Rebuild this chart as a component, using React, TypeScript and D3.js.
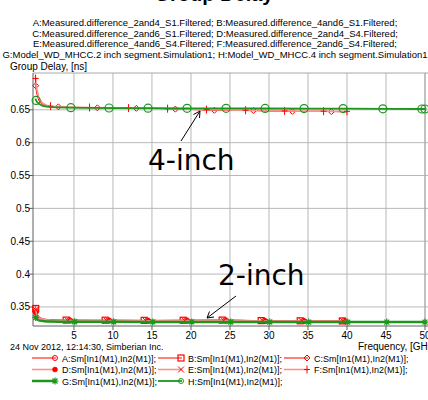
import React from 'react';
import * as d3 from 'd3';

const W = 428;
const H = 400;

const titleLines = [
  'A:Measured.difference_2and4_S1.Filtered; B:Measured.difference_4and6_S1.Filtered;',
  'C:Measured.difference_2and6_S1.Filtered; D:Measured.difference_2and4_S4.Filtered;',
  'E:Measured.difference_4and6_S4.Filtered; F:Measured.difference_2and6_S4.Filtered;',
  'G:Model_WD_MHCC.2 inch segment.Simulation1; H:Model_WD_MHCC.4 inch segment.Simulation1',
];

const xTicks = [5, 10, 15, 20, 25, 30, 35, 40, 45, 50];
const yTicks = [0.35, 0.4, 0.45, 0.5, 0.55, 0.6, 0.65];
const yTickLabels = ['0.35', '0.4', '0.45', '0.5', '0.55', '0.6', '0.65'];

// measured frequencies (GHz), up to 40
const measFreq = [0.05, 0.2, 0.5, 1, 1.5, 2, 3, 4, 6, 8, 10, 12, 14, 16, 18, 20, 22, 24, 26, 28, 30, 32, 34, 36, 38, 40];
// model frequencies (GHz), up to 50
const modelFreq = [0.05, 0.2, 0.5, 1, 1.5, 2, 3, 4, 6, 8, 10, 15, 20, 25, 30, 35, 40, 45, 50];

const seriesA = [0.347, 0.338, 0.333, 0.331, 0.3305, 0.33, 0.3298, 0.3297, 0.3296, 0.3295, 0.3296, 0.3295, 0.3294, 0.3294, 0.3295, 0.3296, 0.3297, 0.3298, 0.3296, 0.3292, 0.329, 0.3289, 0.3288, 0.3288, 0.3287, 0.3286];
const seriesB = [0.351, 0.341, 0.335, 0.332, 0.331, 0.3305, 0.3302, 0.33, 0.3299, 0.3298, 0.3298, 0.3297, 0.3296, 0.3296, 0.3297, 0.3298, 0.3299, 0.33, 0.3298, 0.3293, 0.3291, 0.329, 0.3289, 0.3289, 0.3288, 0.3287];
const seriesC = [0.692, 0.676, 0.664, 0.658, 0.656, 0.655, 0.6545, 0.654, 0.6535, 0.653, 0.6528, 0.6525, 0.652, 0.6518, 0.651, 0.6505, 0.6495, 0.649, 0.6492, 0.6488, 0.648, 0.6478, 0.6475, 0.6478, 0.6472, 0.647];
const seriesD = [0.344, 0.336, 0.332, 0.3303, 0.3298, 0.3294, 0.3291, 0.329, 0.3289, 0.3288, 0.3288, 0.3287, 0.3286, 0.3286, 0.3286, 0.3287, 0.3288, 0.3288, 0.3287, 0.3284, 0.3283, 0.3282, 0.3281, 0.3281, 0.328, 0.328];
const seriesE = [0.349, 0.339, 0.334, 0.3315, 0.3305, 0.33, 0.3297, 0.3295, 0.3294, 0.3293, 0.3293, 0.3292, 0.3291, 0.3291, 0.3292, 0.3293, 0.3294, 0.3295, 0.3293, 0.3289, 0.3287, 0.3286, 0.3285, 0.3285, 0.3284, 0.3283];
const seriesF = [0.701, 0.684, 0.668, 0.66, 0.657, 0.6555, 0.6548, 0.6542, 0.6538, 0.6532, 0.653, 0.6526, 0.6522, 0.652, 0.6515, 0.651, 0.6502, 0.6497, 0.6495, 0.649, 0.6485, 0.6483, 0.648, 0.648, 0.6478, 0.6476];
const seriesG = [0.335, 0.332, 0.3295, 0.3285, 0.328, 0.3278, 0.3276, 0.3275, 0.3274, 0.3273, 0.3273, 0.3272, 0.3272, 0.3271, 0.3271, 0.327, 0.327, 0.327, 0.327];
const seriesH = [0.667, 0.663, 0.659, 0.656, 0.6548, 0.6542, 0.6537, 0.6533, 0.653, 0.6528, 0.6527, 0.6525, 0.6523, 0.6522, 0.652, 0.6519, 0.6518, 0.6514, 0.6512];

// where the markers sit along each curve (GHz)
const markA = [0.1, 4.4, 9.4, 14.4, 19.4, 24.4, 29.4, 34.4, 39.6];
const markB = [0.1, 4, 9, 14, 19, 24, 29, 34, 39.4];
const markC = [0.1, 3, 8, 13, 18, 23, 28, 33, 38];
const markD = [0.1, 4.6, 9.6, 14.6, 19.6, 24.6, 29.6, 34.6, 39.8];
const markE = [0.1, 4.2, 9.2, 14.2, 19.2, 24.2, 29.2, 34.2, 39.5];
const markF = [0.08, 2, 7, 12, 17, 22, 27, 32, 37, 40];
const markG = [0.1, 5.1, 10.1, 15.1, 20.1, 25.1, 30.1, 35.1, 40.1, 45.1, 50];
const markH = [0.15, 4.6, 9.5, 14.5, 19.5, 24.5, 29.5, 34.5, 39.5, 44.6, 49.6, 50];

const RED = '#ff0000';
const PINK = '#ff9090';
const GREEN = '#1e961e';

const series = [
  { key: 'A', f: measFreq, v: seriesA, marks: markA, color: RED, width: 1, marker: 'circle' },
  { key: 'B', f: measFreq, v: seriesB, marks: markB, color: RED, width: 1, marker: 'square' },
  { key: 'C', f: measFreq, v: seriesC, marks: markC, color: RED, width: 1, marker: 'diamond' },
  { key: 'D', f: measFreq, v: seriesD, marks: markD, color: PINK, width: 1.6, marker: 'dot' },
  { key: 'E', f: measFreq, v: seriesE, marks: markE, color: PINK, width: 1.6, marker: 'x' },
  { key: 'F', f: measFreq, v: seriesF, marks: markF, color: PINK, width: 1.6, marker: 'plus' },
  { key: 'G', f: modelFreq, v: seriesG, marks: markG, color: GREEN, width: 2.5, marker: 'star' },
  { key: 'H', f: modelFreq, v: seriesH, marks: markH, color: GREEN, width: 1.8, marker: 'bigcircle' },
];

const FONT = '"Liberation Sans", Arial, sans-serif';

function Marker({ type, x, y, color }: { type: string; x: number; y: number; color: string }) {
  if (type === 'circle') return <circle cx={x} cy={y} r={2.5} fill="none" stroke={color} strokeWidth={1} />;
  if (type === 'bigcircle') return <circle cx={x} cy={y} r={4} fill="none" stroke={color} strokeWidth={1.2} />;
  if (type === 'square') return <rect x={x - 3} y={y - 3} width={6} height={6} fill="none" stroke={color} strokeWidth={1.2} />;
  if (type === 'diamond')
    return <path d={`M${x},${y - 3}L${x + 3},${y}L${x},${y + 3}L${x - 3},${y}Z`} fill="none" stroke={color} strokeWidth={1} />;
  if (type === 'dot') return <circle cx={x} cy={y} r={2.5} fill={RED} stroke={RED} strokeWidth={0.5} />;
  if (type === 'x')
    return <path d={`M${x - 3},${y - 3}L${x + 3},${y + 3}M${x - 3},${y + 3}L${x + 3},${y - 3}`} stroke={RED} strokeWidth={1} />;
  if (type === 'plus')
    return <path d={`M${x},${y - 4}L${x},${y + 4}M${x - 3},${y}L${x + 3},${y}`} stroke={RED} strokeWidth={1} />;
  // star / asterisk
  return (
    <path
      d={`M${x - 3.5},${y}L${x + 3.5},${y}M${x},${y - 3.5}L${x},${y + 3.5}M${x - 2.5},${y - 2.5}L${x + 2.5},${y + 2.5}M${x - 2.5},${y + 2.5}L${x + 2.5},${y - 2.5}`}
      stroke={color}
      strokeWidth={1.2}
    />
  );
}

export default function App() {
  const x = d3.scaleLinear().domain([-0.25, 50]).range([33, 425]);
  const y = d3.scaleLinear().domain([0.321, 0.706]).range([326, 73]);
  const left = 33;
  const top = 73;
  const bottom = 326;
  const right = 425;

  const interp = (f: number[], v: number[], fx: number) => {
    const i = d3.bisectLeft(f, fx);
    if (i <= 0) return v[0];
    if (i >= f.length) return v[v.length - 1];
    const t = (fx - f[i - 1]) / (f[i] - f[i - 1]);
    return v[i - 1] + t * (v[i] - v[i - 1]);
  };

  const legendCols = [32, 158, 284];
  const legendRows = [358, 369.5, 381];

  return (
    <svg width={W} height={H} style={{ position: 'absolute', left: 0, top: 0, background: '#fff' }} fontFamily={FONT}>
      {/* clipped main title */}
      <text x={214} y={1} textAnchor="middle" fontSize={20} fontWeight="bold">Group Delay</text>
      {titleLines.map((t, i) => (
        <text key={i} x={215} y={26 + i * 10.7} textAnchor="middle" fontSize={9.5}>{t}</text>
      ))}
      <text x={10} y={70} fontSize={10}>Group Delay, [ns]</text>

      {/* grid */}
      {xTicks.map(t => (
        <line key={'gx' + t} x1={x(t)} x2={x(t)} y1={top} y2={bottom} stroke="#b8b8b8" />
      ))}
      {yTicks.map(t => (
        <line key={'gy' + t} x1={left} x2={W} y1={y(t)} y2={y(t)} stroke="#b8b8b8" />
      ))}
      <line x1={left} x2={W} y1={top} y2={top} stroke="#a8a8a8" />
      <line x1={right} x2={right} y1={top} y2={bottom} stroke="#a8a8a8" />

      {/* axes */}
      <line x1={left} x2={left} y1={top} y2={bottom} stroke="#606060" />
      <line x1={left} x2={W} y1={bottom} y2={bottom} stroke="#606060" />
      {yTicks.map((t, i) => (
        <g key={'yt' + t}>
          <line x1={left - 4} x2={left} y1={y(t)} y2={y(t)} stroke="#606060" />
          <text x={left - 3} y={y(t) + 3.5} textAnchor="end" fontSize={10}>{yTickLabels[i]}</text>
        </g>
      ))}
      {xTicks.map(t => (
        <g key={'xt' + t}>
          <line x1={x(t)} x2={x(t)} y1={bottom} y2={bottom + 4} stroke="#606060" />
          <text x={x(t)} y={bottom + 13} textAnchor="middle" fontSize={10}>{t}</text>
        </g>
      ))}

      {/* curves */}
      {series.map(s => {
        const pts = s.f.map((f, i) => [x(f), y(s.v[i])] as [number, number]);
        return (
          <g key={s.key}>
            <path d={d3.line()(pts) || ''} fill="none" stroke={s.color} strokeWidth={s.width} />
            {s.marks.map((m, i) => (
              <Marker key={i} type={s.marker} x={x(m)} y={y(interp(s.f, s.v, m))} color={s.color} />
            ))}
          </g>
        );
      })}

      {/* annotations */}
      <text x={148} y={170} fontSize={28} fontFamily='"DejaVu Sans", sans-serif'>4-inch</text>
      <line x1={181} y1={141} x2={200} y2={111} stroke="#000" strokeWidth={1} />
      <path d="M193.5,114.5L200,111L199.5,118" fill="none" stroke="#000" strokeWidth={1} />
      <text x={218} y={285} fontSize={28} fontFamily='"DejaVu Sans", sans-serif'>2-inch</text>
      <line x1={236} y1={296} x2={207} y2={318} stroke="#000" strokeWidth={1} />
      <path d="M209.5,311.5L207,318L214,317" fill="none" stroke="#000" strokeWidth={1} />

      {/* footer */}
      <text x={10} y={350} fontSize={9}>24 Nov 2012, 12:14:30, Simberian Inc.</text>
      <text x={358} y={350} fontSize={10}>Frequency, [GHz]</text>

      {/* legend */}
      {series.map((s, i) => {
        const cx = legendCols[i % 3];
        const cy = legendRows[Math.floor(i / 3)];
        return (
          <g key={'lg' + s.key}>
            <line x1={cx} x2={cx + 24} y1={cy} y2={cy} stroke={s.color} strokeWidth={s.width} />
            <Marker type={s.marker === 'bigcircle' ? 'circle' : s.marker} x={cx + 23} y={cy} color={s.color} />
            <text x={cx + 30} y={cy + 3.5} fontSize={9}>{s.key}:Sm[In1(M1),In2(M1)];</text>
          </g>
        );
      })}
    </svg>
  );
}
